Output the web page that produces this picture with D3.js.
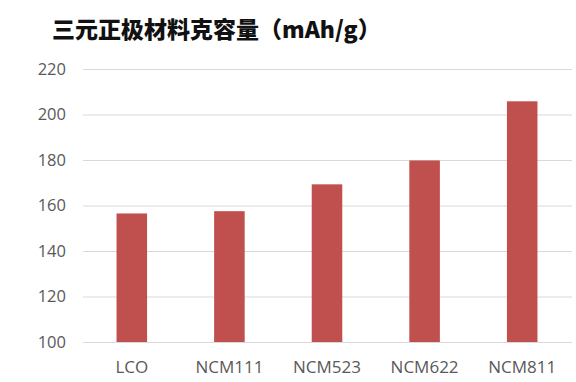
<!DOCTYPE html>
<html><head><meta charset="utf-8">
<script src="https://cdn.jsdelivr.net/npm/d3@7"></script>
<style>body{margin:0;background:#fff;} svg{display:block;}</style>
</head><body>
<script>
const categories = ["LCO","NCM111","NCM523","NCM622","NCM811"];
const capacity = [156.5, 157.5, 169.3, 179.8, 205.8];
const yTicks = [100,120,140,160,180,200,220];
const titleText = "三元正极材料克容量（mAh/g）";

const W=576,H=382;
const svg=d3.select("body").append("svg").attr("width",W).attr("height",H);
const x=d3.scaleBand().domain(categories).range([83,571]).paddingInner(0.687).paddingOuter(0.3435);
const y=d3.scaleLinear().domain([100,220]).range([342,69]);

svg.append("text").attr("x",52).attr("y",38)
  .attr("font-family","'Noto Sans CJK SC','Noto Sans',sans-serif").attr("font-weight","900")
  .attr("font-size",23).attr("fill","#111").text(titleText);

const ya=svg.append("g").attr("transform","translate(83,0)")
  .call(d3.axisLeft(y).tickValues(yTicks).tickSize(-(572-83)).tickPadding(17));
ya.select(".domain").remove();
ya.selectAll(".tick line").attr("stroke","#d9d9d9").attr("stroke-width",1.2);
ya.selectAll(".tick text").attr("fill","#595959").attr("font-size",16.5)
  .attr("font-family","'Open Sans','Noto Sans',sans-serif");

svg.append("g").selectAll("rect").data(capacity).join("rect")
  .attr("x",(d,i)=>x(categories[i])).attr("width",x.bandwidth())
  .attr("y",d=>y(d)).attr("height",d=>y(100)-y(d)).attr("fill","#C0504D");

const xa=svg.append("g").attr("transform","translate(0,342)")
  .call(d3.axisBottom(x).tickSize(0).tickPadding(19));
xa.select(".domain").remove();
xa.selectAll(".tick text").attr("fill","#595959").attr("font-size",17)
  .attr("font-family","'Open Sans','Noto Sans',sans-serif");
</script>
</body></html>
